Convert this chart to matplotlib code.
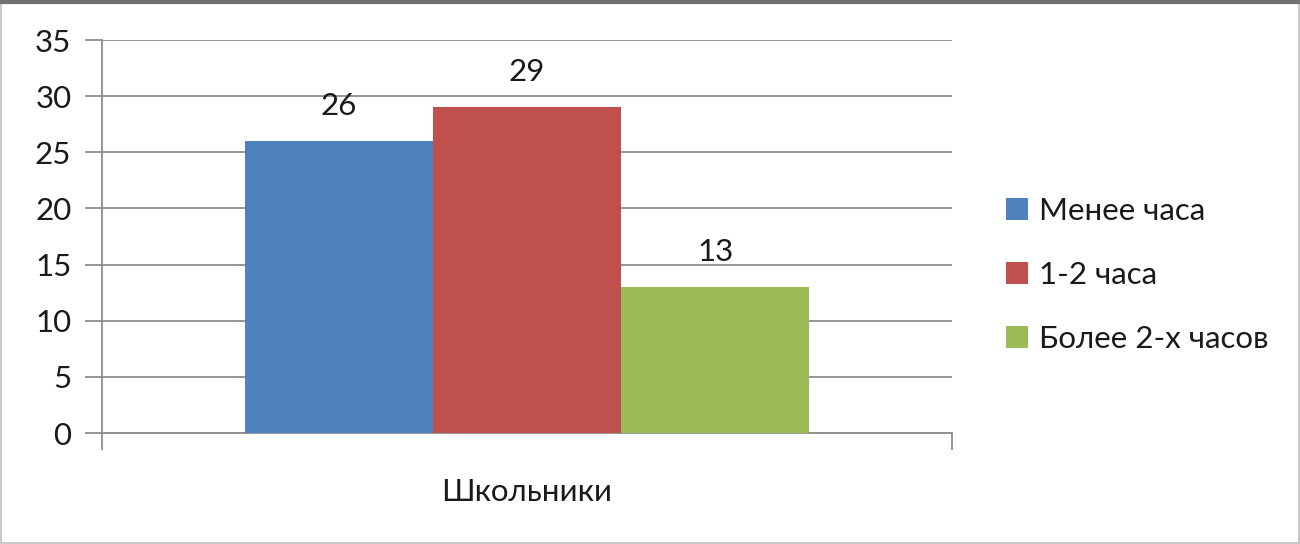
import matplotlib.pyplot as plt
from matplotlib.patches import Rectangle, Patch

plt.rcParams['font.family'] = ['Lato', 'Open Sans', 'DejaVu Sans']

category = "Школьники"
series = ["Менее часа", "1-2 часа", "Более 2-х часов"]
values = [26, 29, 13]
colors = ["#4F81BD", "#C0504D", "#9BBB59"]
yticks = [0, 5, 10, 15, 20, 25, 30, 35]

fs = 22.5
fig = plt.figure(figsize=(13, 5.44), dpi=100)
ax = fig.add_axes([0.0785, 0.204, 0.6538, 0.7224])

bw = 0.2215
x0 = 0.5 - bw * len(values) / 2
for i, (v, c) in enumerate(zip(values, colors)):
    xc = x0 + bw * (i + 0.5)
    ax.bar(xc, v, width=bw, color=c, zorder=3)
    ax.text(xc, v + 1.9, str(v), ha="center", va="bottom", fontsize=fs, color="#1a1a1a")

ax.set_xlim(0, 1)
ax.set_ylim(0, 35)
ax.set_yticks(yticks)
ax.set_yticklabels([str(t) for t in yticks], fontsize=fs, color="#1a1a1a")
ax.yaxis.grid(True, color="#8c8c8c", linewidth=1.3, zorder=0)
ax.tick_params(axis="y", length=12, width=1.3, color="#8c8c8c", pad=10)
ax.set_xticks([0, 1])
ax.set_xticklabels(["", ""])
ax.tick_params(axis="x", length=12, width=1.3, color="#8c8c8c")
ax.text(0.5, -0.15, category, transform=ax.transAxes, ha="center", va="center",
        fontsize=fs, color="#1a1a1a")
for s in ["top", "right"]:
    ax.spines[s].set_visible(False)
for s in ["left", "bottom"]:
    ax.spines[s].set_color("#8c8c8c")
    ax.spines[s].set_linewidth(1.3)

handles = [Patch(facecolor=c, label=s) for s, c in zip(series, colors)]
fig.legend(handles=handles, loc="center left", bbox_to_anchor=(0.752, 0.495),
           frameon=False, fontsize=fs, handlelength=0.7, handleheight=0.7,
           handletextpad=0.35, labelspacing=1.15, labelcolor="#1a1a1a")

# outer frame
fig.add_artist(Rectangle((0.001, 0.002), 0.998, 0.993, transform=fig.transFigure,
                         fill=False, edgecolor="#c8c8c8", linewidth=1.5))
fig.add_artist(plt.Line2D([0, 1], [0.997, 0.997], transform=fig.transFigure,
                          color="#707070", linewidth=3))

fig.savefig("out.png", dpi=100)
